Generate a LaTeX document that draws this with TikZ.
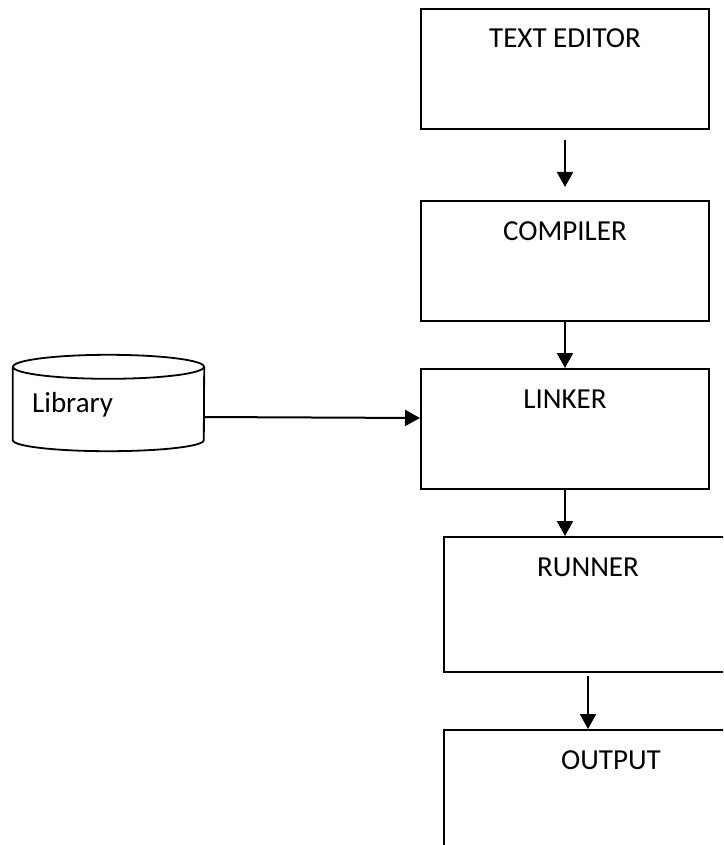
\documentclass[tikz,border=0pt]{standalone}
\usepackage{fontspec}
\setmainfont{Carlito}
\usetikzlibrary{arrows.meta}
\tikzset{
  box/.style={draw, line width=2pt, inner sep=0pt, anchor=north west, text height=39pt,
    font=\fontsize{29}{35}\selectfont},
  arr/.style={line width=2pt, -{Triangle[length=15pt,width=16pt]}},
  lbl/.style={inner sep=0pt, font=\fontsize{29}{35}\selectfont}
}
\begin{document}
\begin{tikzpicture}[x=1pt,y=-1pt]
\useasboundingbox (0,0) rectangle (723,845);
\clip (0,0) rectangle (723,845);
\node[box, minimum width=288pt, minimum height=120pt, text depth=81pt] (ed) at (420,8) {TEXT EDITOR};
\node[box, minimum width=288pt, minimum height=120pt, text depth=81pt] (comp) at (420,200) {COMPILER};
\node[box, minimum width=288pt, minimum height=120pt, text depth=81pt] (link) at (420,368) {LINKER};
\node[box, minimum width=288pt, minimum height=135pt, text depth=96pt] (run) at (443,536) {RUNNER};
\node[box, minimum width=334pt, minimum height=150pt, text depth=111pt] (out) at (443,729) {OUTPUT};
% library cylinder
\node[inner sep=0pt, minimum width=191pt, minimum height=73pt] (lib) at (108.5,403.5) {};
\draw[line width=1.8pt] (lib.north west) -- (lib.south west)
  arc[start angle=180, end angle=360, x radius=95.5pt, y radius=11pt] -- (lib.north east);
\draw[line width=1.8pt] (lib.north) ellipse [x radius=95.5pt, y radius=12pt];
\node[lbl, anchor=base west] (libtxt) at (32,412) {Library};
% connectors
\draw[arr, shorten <=10pt, shorten >=13pt] (ed.south) -- (comp.north);
\draw[arr] (comp.south) -- (link.north);
\draw[arr] ([yshift=-13.5pt]lib.east) -- ([yshift=11pt]link.west);
\draw[arr] (link.south) -- (link.south |- run.north);
\draw[arr, shorten <=3pt] (run.south) -- (run.south |- out.north);
\end{tikzpicture}
\end{document}
